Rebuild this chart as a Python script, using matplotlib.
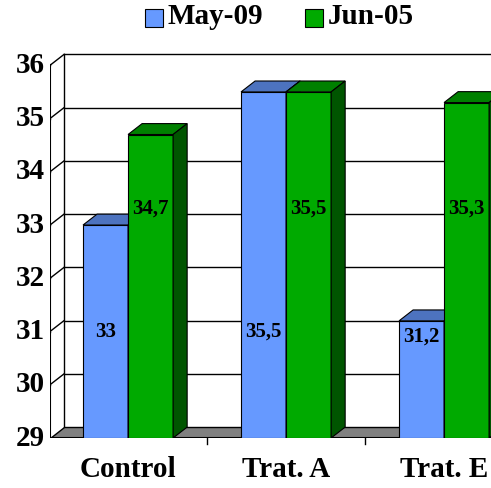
import matplotlib.pyplot as plt
from matplotlib.patches import Polygon, Rectangle

categories = ["Control", "Trat. A", "Trat. E"]
may09 = [33.0, 35.5, 31.2]
jun05 = [34.7, 35.5, 35.3]
labels_may = ["33", "35,5", "31,2"]
labels_jun = ["34,7", "35,5", "35,3"]

plt.rcParams['font.family'] = ['Liberation Serif', 'DejaVu Serif']

fig = plt.figure(figsize=(4.91, 4.88), dpi=100)
ax = fig.add_axes([50 / 491, 50 / 488, 441 / 491, 394 / 488])
x_lo, x_hi = -0.494, 2.297
ax.set_xlim(x_lo, x_hi)
ax.set_ylim(29, 36.4)
ax.axis("off")

w = 0.285
dx, dy = 0.089, 0.205
ymin = 29

# floor
ax.add_patch(Polygon([(x_lo, ymin), (x_hi, ymin), (x_hi, ymin + dy), (x_lo + dx, ymin + dy)],
                     closed=True, fc="#808080", ec="black", lw=1, zorder=1))
# gridlines on back wall
for v in range(30, 37):
    ax.plot([x_lo + dx, x_hi], [v + dy, v + dy], color="black", lw=1, zorder=0)
    ax.plot([x_lo, x_lo + dx], [v, v + dy], color="black", lw=1, zorder=0)
    ax.plot([x_lo - 0.02, x_lo], [v, v], color="black", lw=1, zorder=0)
ax.plot([x_lo + dx, x_lo + dx], [ymin + dy, 36 + dy], color="black", lw=1, zorder=0)
ax.plot([x_lo, x_lo], [ymin, 36], color="black", lw=1.5, zorder=3)
ax.plot([x_lo, x_hi], [ymin, ymin], color="black", lw=1.5, zorder=3)
for v in range(29, 37):
    ax.text(x_lo - 0.03, v, str(v), ha="right", va="center", fontsize=21, fontweight="bold")
for i in range(1, 3):
    ax.plot([i - 0.5, i - 0.5], [ymin, ymin - 0.12], color="black", lw=1, clip_on=False)


def bar3d(x0, h, front, top, side):
    ax.add_patch(Rectangle((x0, ymin), w, h - ymin, fc=front, ec="black", lw=0.8, zorder=4))
    ax.add_patch(Polygon([(x0, h), (x0 + w, h), (x0 + w + dx, h + dy), (x0 + dx, h + dy)],
                         closed=True, fc=top, ec="black", lw=0.8, zorder=4))
    ax.add_patch(Polygon([(x0 + w, ymin), (x0 + w + dx, ymin + dy), (x0 + w + dx, h + dy), (x0 + w, h)],
                         closed=True, fc=side, ec="black", lw=0.8, zorder=4))


for i in range(len(categories)):
    bar3d(i - w, may09[i], "#6699FF", "#4D73BF", "#3D5C99")
    bar3d(i, jun05[i], "#00AA00", "#008000", "#005500")
    ax.text(i - w / 2, min(31.0, may09[i] - 0.3), labels_may[i], ha="center", va="center",
            fontsize=15, fontweight="bold", zorder=5)
    ax.text(i + w / 2, 33.3, labels_jun[i], ha="center", va="center",
            fontsize=15, fontweight="bold", zorder=5)
    ax.text(i, 28.4, categories[i], ha="center", va="center", fontsize=21, fontweight="bold",
            clip_on=False)

# legend
fig.patches.append(Rectangle((145 / 491, 1 - 27 / 488), 18 / 491, 18 / 488, fc="#6699FF", ec="black",
                             lw=0.8, transform=fig.transFigure))
fig.text(168 / 491, 1 - 17 / 488, "May-09", fontsize=21, fontweight="bold", va="center")
fig.patches.append(Rectangle((305 / 491, 1 - 27 / 488), 18 / 491, 18 / 488, fc="#00AA00", ec="black",
                             lw=0.8, transform=fig.transFigure))
fig.text(328 / 491, 1 - 17 / 488, "Jun-05", fontsize=21, fontweight="bold", va="center")

fig.savefig("out.png", dpi=100)
